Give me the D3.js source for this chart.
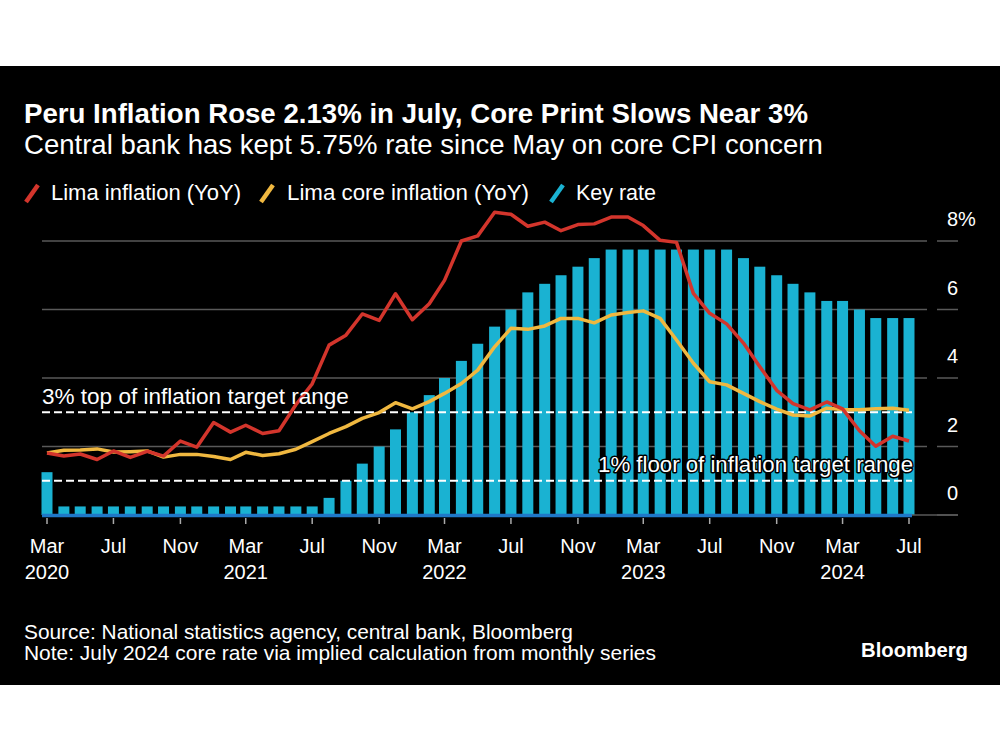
<!DOCTYPE html>
<html><head><meta charset="utf-8">
<script src="https://cdn.jsdelivr.net/npm/d3@7"></script>
<style>
body{margin:0;background:#fff;}
text{font-family:"Liberation Sans",Arial,Helvetica,sans-serif;}
</style>
</head><body>
<svg id="chart" width="1000" height="750"></svg>
<script>
// ---- Data ----
const startMonth = "2020-03";
const endMonth = "2024-07";
const limaInflation = [1.81,1.72,1.78,1.62,1.87,1.68,1.86,1.72,2.16,1.98,
  2.70,2.42,2.62,2.38,2.46,3.22,3.83,4.96,5.25,5.87,5.68,6.46,
  5.70,6.17,6.85,8.00,8.15,8.84,8.78,8.43,8.55,8.30,8.48,8.50,
  8.70,8.70,8.45,8.02,7.96,6.47,5.89,5.58,5.02,4.33,3.64,3.25,
  3.07,3.30,3.10,2.46,2.01,2.30,2.16];
const coreInflation = [1.81,1.89,1.90,1.93,1.84,1.85,1.87,1.69,1.77,1.77,
  1.71,1.62,1.83,1.74,1.79,1.92,2.14,2.38,2.58,2.82,2.99,3.28,
  3.10,3.31,3.55,3.84,4.23,4.91,5.45,5.42,5.52,5.74,5.74,5.61,
  5.84,5.91,5.96,5.74,5.11,4.43,3.89,3.80,3.55,3.31,3.09,2.92,
  2.89,3.12,3.08,3.07,3.10,3.12,3.06];
const keyRate = [1.25,0.25,0.25,0.25,0.25,0.25,0.25,0.25,0.25,0.25,
  0.25,0.25,0.25,0.25,0.25,0.25,0.25,0.50,1.00,1.50,2.00,2.50,
  3.00,3.50,4.00,4.50,5.00,5.50,6.00,6.50,6.75,7.00,7.25,7.50,
  7.75,7.75,7.75,7.75,7.75,7.75,7.75,7.75,7.50,7.25,7.00,6.75,
  6.50,6.25,6.25,6.00,5.75,5.75,5.75];
const yTicks = [0,2,4,6,8];
const yTickLabels = ["0","2","4","6","8%"];
const xTickMonths = ["2020-03","2020-07","2020-11","2021-03","2021-07","2021-11","2022-03","2022-07","2022-11","2023-03","2023-07","2023-11","2024-03","2024-07"];
const seriesNames = ["Lima inflation (YoY)","Lima core inflation (YoY)","Key rate"];
const targetLines = [{v:3,label:"3% top of inflation target range"},{v:1,label:"1% floor of inflation target range"}];

const parse = d3.utcParse("%Y-%m");
const months = d3.utcMonth.range(parse(startMonth), d3.utcMonth.offset(parse(endMonth),1));

// ---- Styles ----
const RED="#d3352c", YEL="#f0b840", BLUE="#1ab2d2", AXISBLUE="#1f78c8", GRID="#595959";

const svg = d3.select("#chart");
svg.append("rect").attr("x",0).attr("y",66).attr("width",1000).attr("height",619).attr("fill","#000");

function fit(sel, targetW){
  const n = sel.node();
  const fs = parseFloat(sel.attr("font-size"));
  const w = n.getComputedTextLength();
  if (w>0) sel.attr("font-size", (fs*targetW/w).toFixed(2));
  return sel;
}
function txt(x,y,s,fs,opts={}){
  const t = svg.append("text").attr("x",x).attr("y",y).attr("font-size",fs)
    .attr("fill",opts.fill||"#fff").attr("font-weight",opts.bold?"bold":"normal")
    .attr("text-anchor",opts.anchor||"start").text(s);
  if(opts.w) fit(t,opts.w);
  return t;
}

// Title / subtitle
txt(24,123,"Peru Inflation Rose 2.13% in July, Core Print Slows Near 3%",24,{bold:true,w:784});
txt(24,154,"Central bank has kept 5.75% rate since May on core CPI concern",24,{w:799});

// Legend
const legendItems = [
  {name:seriesNames[0], color:RED, ix:24, tx:51, w:190},
  {name:seriesNames[1], color:YEL, ix:259, tx:287, w:242},
  {name:seriesNames[2], color:BLUE, ix:549, tx:576, w:80}
];
legendItems.forEach(d=>{
  svg.append("line").attr("x1",d.ix+2).attr("y1",202).attr("x2",d.ix+14).attr("y2",185)
    .attr("stroke",d.color).attr("stroke-width",4.5);
  txt(d.tx,200,d.name,21,{w:d.w});
});

// Scales
const x = d3.scaleUtc().domain([months[0], months[months.length-1]]).range([47,909]);
const y = d3.scaleLinear().domain([0,8]).range([515,241]);

// Gridlines
const g = svg.append("g");
yTicks.filter(v=>v>0).forEach(v=>{
  g.append("line").attr("x1",42).attr("x2",927).attr("y1",y(v)).attr("y2",y(v))
    .attr("stroke",GRID).attr("stroke-width",1.5);
});
yTicks.forEach(v=>{
  g.append("line").attr("x1",937).attr("x2",958).attr("y1",y(v)).attr("y2",y(v))
    .attr("stroke",GRID).attr("stroke-width",1.5);
});
// Y labels
yTicks.forEach((v,i)=>{
  txt(947,y(v)-15,yTickLabels[i],20);
});

// Bars
const barW = 11;
svg.append("g").selectAll("rect").data(keyRate).join("rect")
  .attr("x",(d,i)=>x(months[i])-barW/2).attr("width",barW)
  .attr("y",d=>y(d)).attr("height",d=>y(0)-y(d)).attr("fill",BLUE);

// Baseline
svg.append("line").attr("x1",912).attr("x2",958).attr("y1",y(0)).attr("y2",y(0)).attr("stroke",GRID).attr("stroke-width",1.5);
svg.append("line").attr("x1",42).attr("x2",912).attr("y1",y(0)+0.5).attr("y2",y(0)+0.5).attr("stroke",AXISBLUE).attr("stroke-width",3.5);

// X axis ticks & labels
const fmtM = d3.utcFormat("%b"), fmtY = d3.utcFormat("%Y");
xTickMonths.forEach(m=>{
  const d = parse(m), xx = x(d);
  svg.append("line").attr("x1",xx).attr("x2",xx).attr("y1",518).attr("y2",524).attr("stroke","#aaa").attr("stroke-width",1.5);
  txt(xx,553,fmtM(d),20,{anchor:"middle"});
  if (d.getUTCMonth()===2) txt(xx,579,fmtY(d),20,{anchor:"middle"});
});

// Target lines
targetLines.forEach(t=>{
  svg.append("line").attr("x1",42).attr("x2",912).attr("y1",y(t.v)).attr("y2",y(t.v))
    .attr("stroke","#fff").attr("stroke-width",1.8).attr("stroke-dasharray","8,4");
});

// Lines
const line = d3.line().x((d,i)=>x(months[i])).y(d=>y(d)).curve(d3.curveLinear);
svg.append("path").datum(coreInflation).attr("d",line).attr("fill","none").attr("stroke",YEL).attr("stroke-width",3.5).attr("stroke-linejoin","round");
svg.append("path").datum(limaInflation).attr("d",line).attr("fill","none").attr("stroke",RED).attr("stroke-width",3.5).attr("stroke-linejoin","round");

// Annotations
txt(42,404,targetLines[0].label,21,{w:307});
const ann2 = txt(913,472,targetLines[1].label,21,{anchor:"end",w:315});
ann2.attr("stroke","#000").attr("stroke-width",3).attr("paint-order","stroke").attr("stroke-linejoin","round");

// Footer
txt(24,639,"Source: National statistics agency, central bank, Bloomberg",20,{w:549});
txt(24,660,"Note: July 2024 core rate via implied calculation from monthly series",20,{w:632});
txt(968,657,"Bloomberg",22,{bold:true,anchor:"end",w:107});
</script>
</body></html>
